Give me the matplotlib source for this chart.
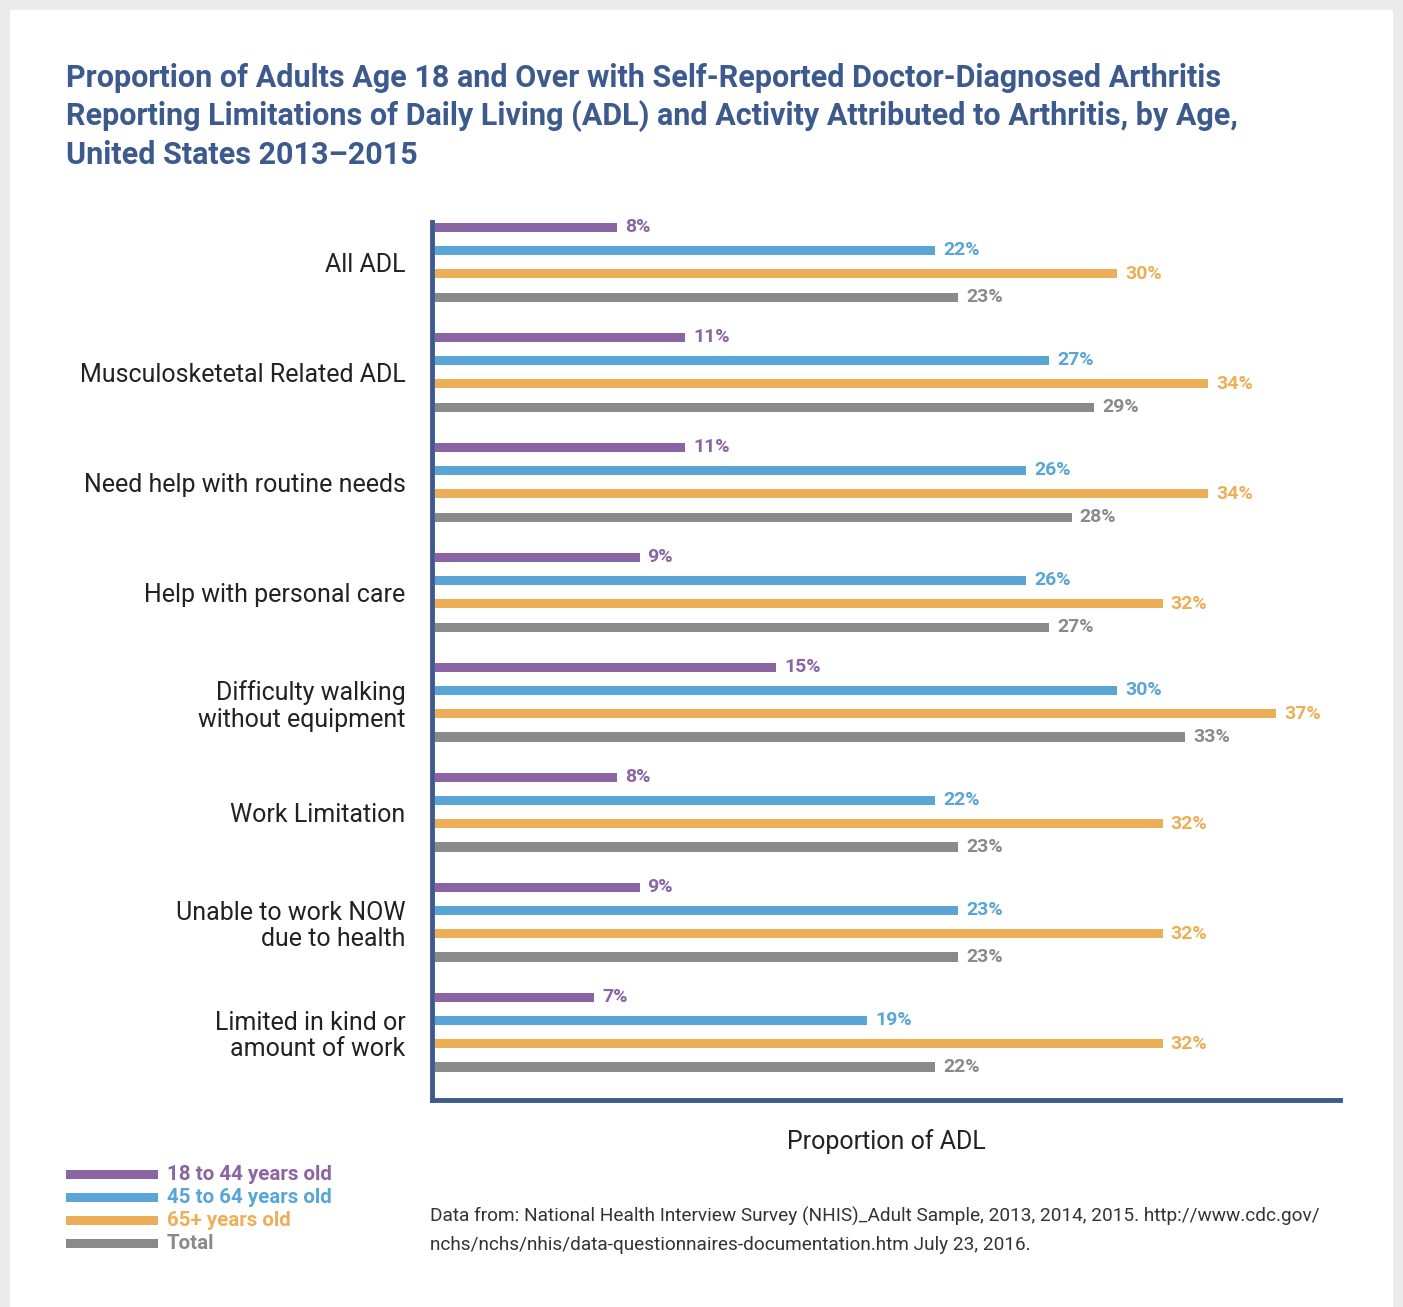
import matplotlib.pyplot as plt
from matplotlib.patches import Rectangle
import numpy as np

categories = ['All ADL', 'Musculosketetal Related ADL', 'Need help with routine needs',
              'Help with personal care', 'Difficulty walking\nwithout equipment',
              'Work Limitation', 'Unable to work NOW\ndue to health',
              'Limited in kind or\namount of work']
series_names = ['18 to 44 years old', '45 to 64 years old', '65+ years old', 'Total']
age_18_44 = [8, 11, 11, 9, 15, 8, 9, 7]
age_45_64 = [22, 27, 26, 26, 30, 22, 23, 19]
age_65_up = [30, 34, 34, 32, 37, 32, 32, 32]
total = [23, 29, 28, 27, 33, 23, 23, 22]
colors = ['#8B64A3', '#58A5D6', '#ECAF58', '#8A8A8D']

navy = '#3D5A8E'
W, H = 1403, 1307
fig = plt.figure(figsize=(W / 100, H / 100), dpi=100, facecolor='#EBEBEB')
fig.add_artist(Rectangle((10 / W, 0), (1393 - 10) / W, 1 - 10 / H, transform=fig.transFigure,
                         facecolor='white', edgecolor='none', zorder=0))

ax = fig.add_axes([432 / W, 1 - 1100 / H, (1340 - 432) / W, (1100 - 222) / H])
ax.set_facecolor('none')

y = np.arange(len(categories))
step = 0.212
all_series = [age_18_44, age_45_64, age_65_up, total]
for k, vals in enumerate(all_series):
    pos = y + (k - 1.5) * step
    ax.barh(pos, vals, height=0.082, color=colors[k])
    for p, v in zip(pos, vals):
        ax.text(v + 0.35, p, f'{v}%', color=colors[k], fontsize=14, fontweight='bold',
                family='Roboto', va='center', ha='left')

ax.set_xlim(-0.13, 39.8)
ax.set_ylim(7.618, -0.364)
for s in ['top', 'right']:
    ax.spines[s].set_visible(False)
for s in ['left', 'bottom']:
    ax.spines[s].set_color(navy)
    ax.spines[s].set_linewidth(3.5)
ax.set_xticks([])
ax.set_yticks(y)
ax.set_yticklabels(categories, family='Roboto', fontsize=18, color='#222222',
                   linespacing=1.15)
ax.tick_params(axis='y', length=0, pad=19)
ax.set_xlabel('Proportion of ADL', family='Roboto', fontsize=18, color='#222222', labelpad=21)

fig.text(66 / W, 1 - 63 / H,
         'Proportion of Adults Age 18 and Over with Self-Reported Doctor-Diagnosed Arthritis\n'
         'Reporting Limitations of Daily Living (ADL) and Activity Attributed to Arthritis, by Age,\n'
         'United States 2013\u20132015',
         family='Roboto', fontweight='bold', fontsize=22,
         color=navy, va='top', ha='left', linespacing=1.3)

# legend
for k, name in enumerate(series_names):
    yy = 1 - (1174 + k * 23.3) / H
    fig.add_artist(Rectangle((66 / W, yy - 4.5 / H), 92 / W, 9 / H, transform=fig.transFigure,
                             facecolor=colors[k], edgecolor='none'))
    fig.text(167 / W, yy, name, color=colors[k], family='Roboto', fontweight='bold',
             fontsize=14.8, va='center', ha='left')

fig.text(430 / W, 1 - 1216 / H,
         'Data from: National Health Interview Survey (NHIS)_Adult Sample, 2013, 2014, 2015. http://www.cdc.gov/',
         family='Roboto', fontsize=13.7, color='#333333', va='center')
fig.text(430 / W, 1 - 1245 / H,
         'nchs/nchs/nhis/data-questionnaires-documentation.htm July 23, 2016.',
         family='Roboto', fontsize=13.7, color='#333333', va='center')

fig.savefig('out.png', dpi=100, facecolor=fig.get_facecolor())
